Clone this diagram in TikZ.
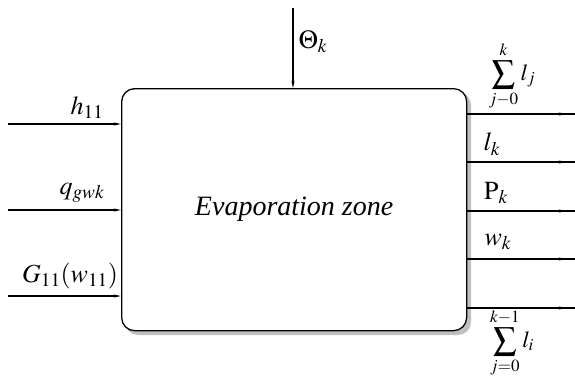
\documentclass[tikz,border=0pt]{standalone}
\usepackage{mathptmx}
\usepackage[no-math]{fontspec}
\setmainfont{Liberation Serif}
\usetikzlibrary{arrows.meta}
\begin{document}
\begin{tikzpicture}[x=1pt,y=-1pt,
  flow/.style={line width=1.3pt,-{Stealth[length=7pt,width=3pt]}},
  lbl/.style={inner sep=0pt,font=\fontsize{26}{30}\selectfont},
  sumlbl/.style={inner sep=0pt,font=\fontsize{23}{27}\selectfont}]
\useasboundingbox (0,0) rectangle (575,376);
% shadow
\fill[black!25,rounded corners=13pt] (125,92) rectangle (471,335);
\node[draw,line width=1.3pt,fill=white,rounded corners=13pt,minimum width=345pt,minimum height=242pt,anchor=north west,inner sep=0pt] (zone) at (121,88) {};
\node[inner sep=0pt,font=\fontsize{28}{32}\selectfont\itshape] (title) at (zone.center) {Evaporation zone};
% inputs
\coordinate (i1) at (8,124);
\coordinate (i2) at (8,210);
\coordinate (i3) at (8,296);
\draw[flow] (i1) -- (i1 -| zone.west);
\draw[flow] (i2) -- (i2 -| zone.west);
\draw[flow] (i3) -- (i3 -| zone.west);
\node[lbl] (lh) at (87,108) {$h_{11}$};
\node[lbl] (lq) at (82,193) {$q_{gwk}$};
\node[lbl] (lG) at (70,276) {$G_{11}(w_{11})$};
% top
\coordinate (t0) at (293,8);
\draw[flow] (t0) -- (t0 |- zone.north);
\node[lbl] (lT) at (313,42) {$\Theta_k$};
% outputs
\coordinate (o1) at (575,114);
\coordinate (o2) at (575,162);
\coordinate (o3) at (575,211);
\coordinate (o4) at (575,259);
\coordinate (o5) at (575,308);
\foreach \o in {o1,o2,o3,o4,o5}{
  \draw[line width=1.3pt] (\o -| zone.east) -- (\o);
  \draw[flow] (\o -| zone.east) -- ([xshift=-9pt]\o);
}
\node[sumlbl] (ls1) at (512,76) {$\displaystyle\sum_{j-0}^{k} l_j$};
\node[lbl] (ll) at (492,144) {$l_k$};
\node[lbl] (lr) at (496,193) {$\mathrm{P}_k$};
\node[lbl] (lw) at (498,242) {$w_k$};
\node[sumlbl] (ls2) at (512,343) {$\displaystyle\sum_{j=0}^{k-1} l_i$};
\end{tikzpicture}
\end{document}
